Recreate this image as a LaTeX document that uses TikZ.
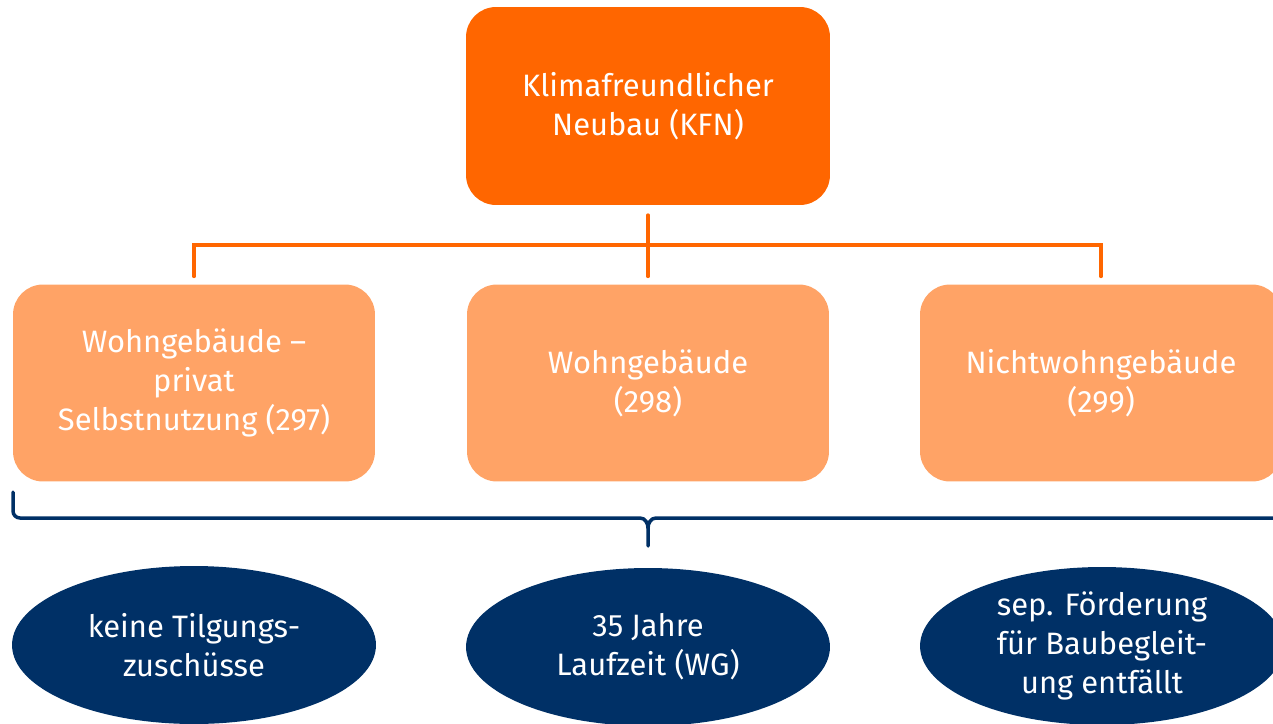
\documentclass[tikz,border=0pt]{standalone}
\usepackage{fontspec}
\setmainfont{Fira Sans}
\usetikzlibrary{shapes.geometric}
\definecolor{kfnorange}{HTML}{FF6600}
\definecolor{kfnlight}{HTML}{FFA366}
\definecolor{kfnnavy}{HTML}{003066}
\begin{document}
\begin{tikzpicture}
% 1 unit = 1px of the 1273x723 layout
[x=0.02cm, y=-0.02cm,
 font=\fontsize{17.6}{22.2}\selectfont,
 topbox/.style={rectangle, rounded corners=0.6cm, fill=kfnorange, text=white,
   minimum width=7.28cm, minimum height=3.96cm, align=center, inner sep=0},
 subbox/.style={rectangle, rounded corners=0.6cm, fill=kfnlight, text=white,
   minimum width=7.24cm, minimum height=3.94cm, align=center, inner sep=0},
 oval/.style={ellipse, fill=kfnnavy, text=white,
   minimum width=7.28cm, minimum height=3.16cm, align=center, inner sep=0},
 orline/.style={draw=kfnorange, line width=0.08cm, line cap=round},
 bracket/.style={draw=kfnnavy, line width=0.07cm, line cap=round}]
\useasboundingbox (0,0) rectangle (1273,723);
\clip (0,0) rectangle (1273,723);
% top
\node[topbox] (kfn) at (648,106) {Klimafreundlicher\\Neubau (KFN)};
% second row
\node[subbox] (wg297) at (194,383) {Wohngebäude –\\privat\\Selbstnutzung (297)};
\node[subbox] (wg298) at (648,383) {Wohngebäude\\(298)};
\node[subbox] (nwg299) at (1101,383) {Nichtwohngebäude\\(299)};
% 245 = y of the orange bar
\coordinate (bar) at (648,245);
\draw[orline] ([yshift=-0.2cm]kfn.south) -- ([yshift=0.16cm]wg298.north);
\draw[orline] ([yshift=0.16cm]wg297.north) |- (bar) -| ([yshift=0.16cm]nwg299.north);
% brace under the boxes
\draw[bracket] (13,492) -- (13,511) to[out=-90,in=180] (20,518) -- (640,518)
  to[out=0,in=90] (648,528) -- (648,546);
\draw[bracket] (648,528) to[out=90,in=180] (656,518) -- (1290,518);
% bottom row
\node[oval] (e297) at (194,645) {keine Tilgungs-\\zuschüsse};
\node[oval] (e298) at (648,647) {35 Jahre\\Laufzeit (WG)};
\node[oval] (e299) at (1102,646) {sep. Förderung\\für Baubegleit-\\ung entfällt};
\end{tikzpicture}
\end{document}
